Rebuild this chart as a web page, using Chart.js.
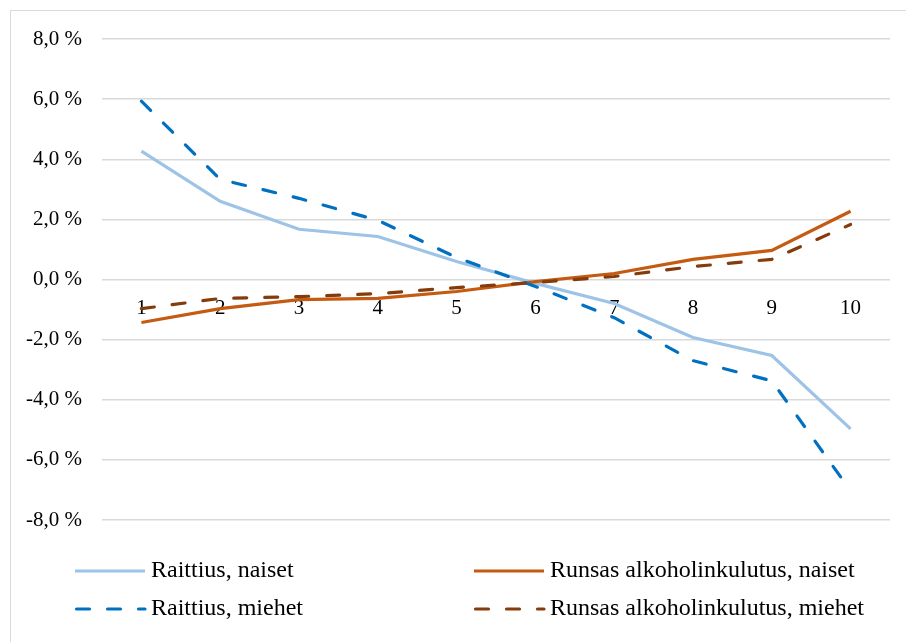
<!DOCTYPE html>
<html>
<head>
<meta charset="utf-8">
<script src="https://cdn.jsdelivr.net/npm/chart.js@4"></script>
<style>
  html, body { margin: 0; padding: 0; background: #fff; }
  #wrap { position: relative; width: 906px; height: 642px; }
  #frame { position: absolute; left: 10px; top: 10px; right: -2px; bottom: -2px;
           border-left: 1.5px solid #d9d9d9; border-top: 1.5px solid #d9d9d9; }
  canvas { position: absolute; left: 0; top: 0; }
</style>
</head>
<body>
<div id="wrap">
  <div id="frame"></div>
  <canvas id="myChart" width="906" height="642"></canvas>
</div>
<script>
// Data
const categories = ['1', '2', '3', '4', '5', '6', '7', '8', '9', '10']
const raittiusNaiset = [4.27, 2.6, 1.67, 1.43, 0.6, -0.13, -0.8, -1.93, -2.53, -4.97]
const runsasNaiset = [-1.43, -0.97, -0.67, -0.63, -0.4, -0.07, 0.2, 0.67, 0.97, 2.27]
const raittiusMiehet = [5.93, 3.33, 2.7, 1.97, 0.73, -0.23, -1.27, -2.7, -3.37, -7.03]
const runsasMiehet = [-0.97, -0.63, -0.57, -0.47, -0.27, -0.1, 0.1, 0.43, 0.67, 1.83]
const seriesNames = ['Raittius, naiset', 'Runsas alkoholinkulutus, naiset',
                     'Raittius, miehet', 'Runsas alkoholinkulutus, miehet']

const serif = "'Liberation Serif', 'Times New Roman', serif"

function lineSet(label, values, color, dash, i){
  return {
    label,
    data: values,
    borderColor: color,
    backgroundColor: color,
    borderWidth: 3.2,
    borderDash: dash,
    borderCapStyle: dash.length ? 'round' : 'butt',
    pointRadius: 0,
    tension: 0,
    order: 3 - i
  }
}

//Data Block
const data = {
  labels: categories,
  datasets: [
    lineSet(seriesNames[0], raittiusNaiset, '#9DC3E6', [], 0),
    lineSet(seriesNames[1], runsasNaiset, '#C55A11', [], 1),
    lineSet(seriesNames[2], raittiusMiehet, '#0070C0', [13, 18], 2),
    lineSet(seriesNames[3], runsasMiehet, '#843C0C', [13, 18], 3)
  ]
}

// legend in two columns, drawn on the canvas
const gridLegend = {
  id: 'gridLegend',
  afterDraw(chart){
    const ctx = chart.ctx
    const colX = [75, 474]
    const rowY = [571, 609]
    ctx.save()
    chart.data.datasets.forEach((ds, i) => {
      const x = colX[i % 2]
      const y = rowY[Math.floor(i / 2)]
      ctx.beginPath()
      ctx.strokeStyle = ds.borderColor
      ctx.lineWidth = ds.borderWidth
      ctx.lineCap = ds.borderCapStyle
      ctx.setLineDash(ds.borderDash)
      ctx.moveTo(x + (ds.borderDash.length ? 1.5 : 0), y)
      ctx.lineTo(x + 70, y)
      ctx.stroke()
      ctx.setLineDash([])
      ctx.fillStyle = '#000'
      ctx.font = '24px ' + serif
      ctx.textBaseline = 'middle'
      ctx.textAlign = 'left'
      ctx.fillText(ds.label, x + 76, y)
    })
    ctx.restore()
  }
}

//Config Block
const config = {
  type: 'line',
  data,
  plugins: [gridLegend],
  options: {
    responsive: false,
    animation: false,
    layout: { padding: { left: 10, right: 16, top: 39, bottom: 122 } },
    plugins: { legend: { display: false }, tooltip: { enabled: false } },
    scales: {
      x: {
        position: { y: 0 },
        offset: true,
        grid: { display: false, drawTicks: false },
        border: { display: false },
        ticks: { color: '#000', font: { family: serif, size: 21 }, padding: 16, maxRotation: 0 }
      },
      y: {
        min: -8,
        max: 8,
        afterFit(scale){ scale.width = 92 },
        grid: { color: '#d9d9d9', lineWidth: 1.5, drawTicks: false },
        border: { display: false },
        ticks: {
          stepSize: 2,
          color: '#000',
          padding: 20,
          font: { family: serif, size: 21 },
          callback: v => v.toFixed(1).replace('.', ',') + ' %'
        }
      }
    }
  }
}

//Render init block
const myChart = new Chart(
  document.getElementById('myChart'),
  config
)
</script>
</body>
</html>
